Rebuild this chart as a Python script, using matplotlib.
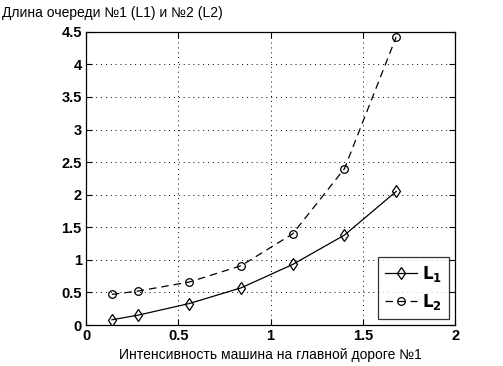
import numpy as np
import matplotlib
matplotlib.use('Agg')
import matplotlib.pyplot as plt

plt.rcParams['font.family'] = ['Liberation Sans', 'DejaVu Sans']

X = [0.14, 0.28, 0.56, 0.84, 1.12, 1.40, 1.68]
L1 = [0.08, 0.15, 0.33, 0.57, 0.93, 1.38, 2.05]
L2 = [0.47, 0.52, 0.66, 0.91, 1.40, 2.40, 4.42]

fig = plt.figure(figsize=(5.03, 3.66), dpi=100)
ax = fig.add_axes([0.171, 0.112, 0.734, 0.801])

ax.plot(X, L1, color='black', lw=0.9, marker='d', ms=6, mfc='none', mew=0.9,
        label=r'$\mathbf{L_1}$')
ax.plot(X, L2, color='black', lw=0.9, ls=(0, (6, 4)), marker='o', ms=5.5, mfc='none',
        mew=0.9, label=r'$\mathbf{L_2}$')

ax.set_xlim(0, 2)
ax.set_ylim(0, 4.5)
ax.set_xticks([0, 0.5, 1, 1.5, 2])
ax.set_xticklabels(['0', '0.5', '1', '1.5', '2'])
ax.set_yticks(np.arange(0, 4.6, 0.5))
ax.set_yticklabels(['0', '0.5', '1', '1.5', '2', '2.5', '3', '3.5', '4', '4.5'])
ax.tick_params(direction='in', length=4, width=0.8, labelsize=10.5, top=True, right=True,
               pad=3)
for lbl in ax.get_xticklabels() + ax.get_yticklabels():
    lbl.set_fontweight('bold')
ax.grid(True, color='black', ls=(0, (1, 4)), lw=0.7)
for s in ax.spines.values():
    s.set_linewidth(0.9)

leg = ax.legend(loc='lower right', fontsize=12, frameon=True, fancybox=False,
                edgecolor='black', handlelength=1.9, handletextpad=0.3,
                borderaxespad=0.35, borderpad=0.45, labelspacing=0.45)
leg.get_frame().set_linewidth(0.9)

fig.text(0.004, 0.965, 'Длина очереди №1 (L1) и №2 (L2)', fontsize=10, va='center', ha='left')
fig.text(0.537, 0.03, 'Интенсивность машина на главной дороге №1', fontsize=10,
         va='center', ha='center')

fig.savefig('out.png', dpi=100)
